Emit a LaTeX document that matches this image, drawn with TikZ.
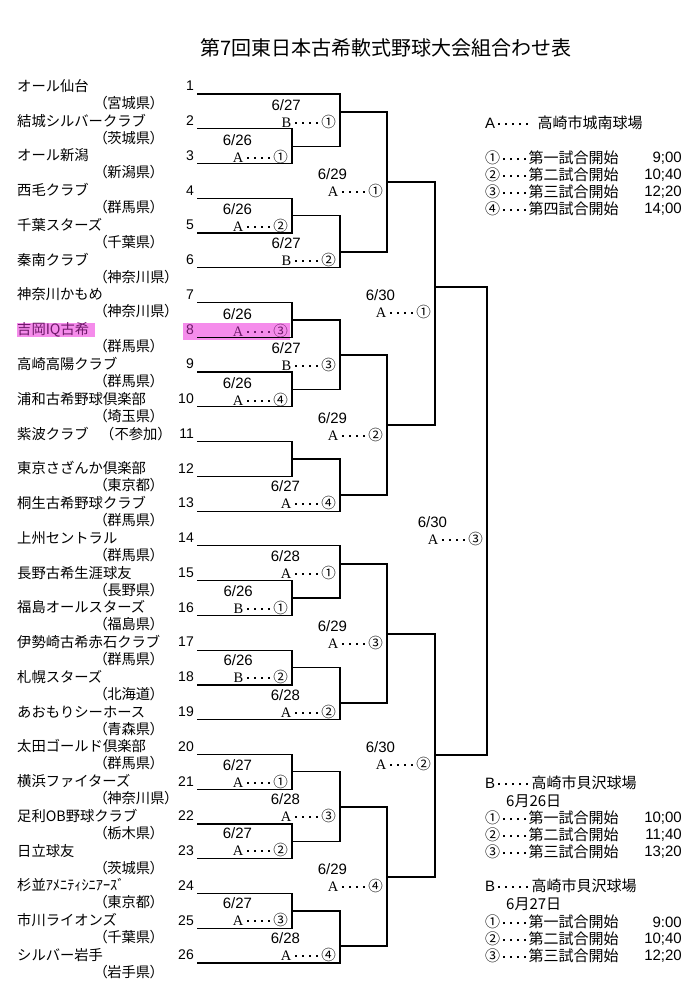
\documentclass[tikz,border=0pt]{standalone}
\usepackage{fontspec}
\newfontfamily\jp{Noto Sans CJK JP}
\newfontfamily\jpp[RawFeature=+palt]{Noto Sans CJK JP}
\newfontfamily\ar{Liberation Sans}
\newfontfamily\tm{Liberation Serif}
\definecolor{hl}{RGB}{245,140,235}
\definecolor{hltext}{RGB}{110,25,105}
\newcommand\gdot{\hspace{2.5pt}\rule[3.7pt]{2.1pt}{2.1pt}\hspace{2.5pt}}
\newcommand\gl[2]{{\tm #1}\hspace{0.8pt}\gdot\gdot\gdot\gdot\hspace{0.8pt}{\jp #2}}
\newcommand\match[3]{\draw[br] (#1) -- (#1 -| #3) -- (#2 -| #3) -- (#2);}
\newcommand\glabel[6]{\node[glab] (L#1) at (#2,#3) {\gl{#5}{#6}};
  \node[gdate] (D#1) at ([xshift=-10pt,yshift=17pt]L#1.west) {#4};}
\tikzset{
  br/.style={line width=1.2pt, line join=miter},
  tname/.style={anchor=west, inner sep=0pt, font=\jp\fontsize{14.3}{16}\selectfont},
  tpref/.style={anchor=west, inner sep=0pt, font=\jpp\fontsize{14.3}{16}\selectfont},
  tnum/.style={anchor=east, inner sep=0pt, font=\ar\fontsize{14}{16}\selectfont},
  glab/.style={anchor=east, inner sep=0pt, font=\fontsize{14.5}{16}\selectfont},
  gdate/.style={anchor=west, inner sep=0pt, font=\ar\fontsize{15}{16}\selectfont},
  info/.style={anchor=west, inner sep=0pt, font=\jp\fontsize{15}{17}\selectfont},
  itime/.style={anchor=east, inner sep=0pt, font=\ar\fontsize{15}{17}\selectfont},
}
\begin{document}
\begin{tikzpicture}[x=1pt,y=-1pt]
\fill[white] (0,0) rectangle (694,1004);
\useasboundingbox (0,0) rectangle (694,1004);
% highlights
\fill[hl] (17,323) rectangle (95,337);
\fill[hl] (183,323) rectangle (290,340);
% title
\node[inner sep=0pt, font=\jp\fontsize{20}{22}\selectfont] (title) at (386,48) {第7回東日本古希軟式野球大会組合わせ表};
% team line starts
\foreach \i in {1,...,26} \coordinate (t\i) at (197,{94+(\i-1)*34.76});
% numbers
\foreach \i in {1,2,3,4,5,6,7,9,10,11,12,13,14,15,16,17,18,19,20,21,22,23,24,25,26}
  \node[tnum] (num\i) at (194,{94+(\i-1)*34.76-8}) {\i};
\node[tnum, text=hltext] (num8) at (194,{94+7*34.76-8}) {8};
% names
\foreach \i/\nm/\pf in {1/オール仙台/（宮城県）,2/結城シルバークラブ/（茨城県）,3/オール新潟/（新潟県）,
  4/西毛クラブ/（群馬県）,5/千葉スターズ/（千葉県）,6/秦南クラブ/（神奈川県）,7/神奈川かもめ/（神奈川県）,
  9/高崎高陽クラブ/（群馬県）,10/浦和古希野球倶楽部/（埼玉県）,12/東京さざんか倶楽部/（東京都）,
  13/桐生古希野球クラブ/（群馬県）,14/上州セントラル/（群馬県）,15/長野古希生涯球友/（長野県）,
  16/福島オールスターズ/（福島県）,17/伊勢崎古希赤石クラブ/（群馬県）,18/札幌スターズ/（北海道）,
  19/あおもりシーホース/（青森県）,20/太田ゴールド倶楽部/（群馬県）,21/横浜ファイターズ/（神奈川県）,
  22/足利OB野球クラブ/（栃木県）,23/日立球友/（茨城県）,24/杉並ｱﾒﾆﾃｨｼﾆｱｰｽﾞ/（東京都）,
  25/市川ライオンズ/（千葉県）,26/シルバー岩手/（岩手県）}{
  \node[tname] (name\i) at (17,{94+(\i-1)*34.76-8}) {\nm};
  \node[tpref] (pref\i) at (100,{94+(\i-1)*34.76+9}) {\pf};
}
\node[tname, text=hltext] (name8) at (17,{94+7*34.76-8}) {吉岡IQ古希};
\node[tpref] (pref8) at (100,{94+7*34.76+9}) {（群馬県）};
\node[tname] (name11) at (17,{94+10*34.76-8}) {紫波クラブ};
\node[tname] (pref11) at (100,{94+10*34.76-8}) {（不参加）};
% match points
\coordinate (m23) at (292,146.1);
\coordinate (m45) at (292,215.7);
\coordinate (m78) at (292,319.9);
\coordinate (m910) at (292,389.5);
\coordinate (m1112) at (292,459);
\coordinate (m1516) at (292,598);
\coordinate (m1718) at (292,667.5);
\coordinate (m2021) at (292,771.8);
\coordinate (m2223) at (292,841.3);
\coordinate (m2425) at (292,910.9);
\coordinate (mA2) at (340,112);
\coordinate (mA3) at (340,252);
\coordinate (mB2) at (340,355);
\coordinate (mB3) at (340,495);
\coordinate (mC2) at (340,564);
\coordinate (mC3) at (340,703);
\coordinate (mD2) at (340,807);
\coordinate (mD3) at (340,946);
\coordinate (mA) at (387,182);
\coordinate (mB) at (387,425);
\coordinate (mC) at (387,634);
\coordinate (mD) at (387,877);
\coordinate (mAB) at (435,287);
\coordinate (mCD) at (435,755);
\coordinate (mF) at (487,521);
% bracket
\match{t2}{t3}{m23}
\match{t4}{t5}{m45}
\match{t7}{t8}{m78}
\match{t9}{t10}{m910}
\match{t11}{t12}{m1112}
\match{t15}{t16}{m1516}
\match{t17}{t18}{m1718}
\match{t20}{t21}{m2021}
\match{t22}{t23}{m2223}
\match{t24}{t25}{m2425}
\match{t1}{m23}{mA2}
\match{m45}{t6}{mA3}
\match{m78}{m910}{mB2}
\match{m1112}{t13}{mB3}
\match{t14}{m1516}{mC2}
\match{m1718}{t19}{mC3}
\match{m2021}{m2223}{mD2}
\match{m2425}{t26}{mD3}
\match{mA2}{mA3}{mA}
\match{mB2}{mB3}{mB}
\match{mC2}{mC3}{mC}
\match{mD2}{mD3}{mD}
\match{mA}{mB}{mAB}
\match{mC}{mD}{mCD}
\match{mAB}{mCD}{mF}
% labels
\glabel{23}{288}{157}{6/26}{A}{①}
\glabel{45}{288}{226}{6/26}{A}{②}
\node[glab, text=hltext] (L78) at (288,331) {\gl{A}{③}};
\node[gdate] (D78) at ([xshift=-10pt,yshift=17pt]L78.west) {6/26};
\glabel{910}{288}{400}{6/26}{A}{④}
\glabel{1516}{288}{608}{6/26}{B}{①}
\glabel{1718}{288}{677}{6/26}{B}{②}
\glabel{2021}{288}{782}{6/27}{A}{①}
\glabel{2223}{288}{850}{6/27}{A}{②}
\glabel{2425}{288}{920}{6/27}{A}{③}
\glabel{A2}{336}{122}{6/27}{B}{①}
\glabel{A3}{336}{260}{6/27}{B}{②}
\glabel{B2}{336}{365}{6/27}{B}{③}
\glabel{B3}{336}{503}{6/27}{A}{④}
\glabel{C2}{336}{573}{6/28}{A}{①}
\glabel{C3}{336}{712}{6/28}{A}{②}
\glabel{D2}{336}{816}{6/28}{A}{③}
\glabel{D3}{336}{955}{6/28}{A}{④}
\glabel{A}{383}{191}{6/29}{A}{①}
\glabel{B}{383}{435}{6/29}{A}{②}
\glabel{C}{383}{643}{6/29}{A}{③}
\glabel{D}{383}{886}{6/29}{A}{④}
\glabel{AB}{431}{312}{6/30}{A}{①}
\glabel{CD}{431}{764}{6/30}{A}{②}
\glabel{F}{483}{539}{6/30}{A}{③}
% info A
\node[info] (iA) at (485,123) {{\ar A}\gdot\gdot\gdot\gdot\gdot\hspace{7pt}高崎市城南球場};
\node[info] (iA1) at (485,158) {①\gdot\gdot\gdot\gdot 第一試合開始};
\node[info] (iA2) at (485,175) {②\gdot\gdot\gdot\gdot 第二試合開始};
\node[info] (iA3) at (485,192) {③\gdot\gdot\gdot\gdot 第三試合開始};
\node[info] (iA4) at (485,209) {④\gdot\gdot\gdot\gdot 第四試合開始};
\node[itime] (tA1) at (682,158) {9;00};
\node[itime] (tA2) at (682,175) {10;40};
\node[itime] (tA3) at (682,192) {12;20};
\node[itime] (tA4) at (682,209) {14;00};
% info B 26
\node[info] (iB) at (485,783) {{\ar B}\gdot\gdot\gdot\gdot\gdot\hspace{1pt}高崎市貝沢球場};
\node[info] (iBd) at (506,801) {6月26日};
\node[info] (iB1) at (485,818) {①\gdot\gdot\gdot\gdot 第一試合開始};
\node[info] (iB2) at (485,835) {②\gdot\gdot\gdot\gdot 第二試合開始};
\node[info] (iB3) at (485,852) {③\gdot\gdot\gdot\gdot 第三試合開始};
\node[itime] (tB1) at (682,818) {10;00};
\node[itime] (tB2) at (682,835) {11;40};
\node[itime] (tB3) at (682,852) {13;20};
% info B 27
\node[info] (iC) at (485,886) {{\ar B}\gdot\gdot\gdot\gdot\gdot\hspace{1pt}高崎市貝沢球場};
\node[info] (iCd) at (506,904) {6月27日};
\node[info] (iC1) at (485,922) {①\gdot\gdot\gdot\gdot 第一試合開始};
\node[info] (iC2) at (485,939) {②\gdot\gdot\gdot\gdot 第二試合開始};
\node[info] (iC3) at (485,956) {③\gdot\gdot\gdot\gdot 第三試合開始};
\node[itime] (tC1) at (682,922) {9:00};
\node[itime] (tC2) at (682,939) {10;40};
\node[itime] (tC3) at (682,956) {12;20};
\end{tikzpicture}
\end{document}
